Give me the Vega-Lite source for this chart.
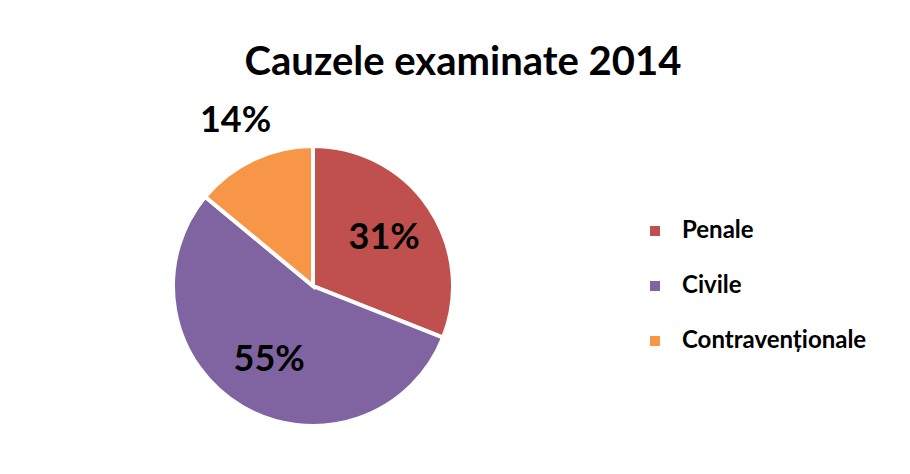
{
  "$schema": "https://vega.github.io/schema/vega-lite/v6.json",
  "width": 300,
  "height": 300,
  "autosize": {"type": "none"},
  "padding": {"left": 163, "top": 136, "right": 447, "bottom": 38},
  "background": "white",
  "title": {
    "text": "Cauzele examinate 2014",
    "font": "Lato",
    "fontSize": 40,
    "fontWeight": "bold",
    "color": "black",
    "anchor": "middle",
    "frame": "group",
    "dx": 150,
    "offset": 20
  },
  "data": {
    "values": [
      {"category": "Penale", "value": 31, "label": "31%"},
      {"category": "Civile", "value": 55, "label": "55%"},
      {"category": "Contravenționale", "value": 14, "label": "14%"}
    ]
  },
  "transform": [
    {"window": [{"op": "row_number", "as": "order"}]}
  ],
  "encoding": {
    "theta": {"field": "value", "type": "quantitative", "stack": true},
    "order": {"field": "order", "type": "quantitative"}
  },
  "layer": [
    {
      "mark": {"type": "arc", "outerRadius": 140, "stroke": "white", "strokeWidth": 4},
      "encoding": {
        "color": {
          "field": "category",
          "type": "nominal",
          "sort": ["Penale", "Civile", "Contravenționale"],
          "scale": {"domain": ["Penale", "Civile", "Contravenționale"], "range": ["#C0504D", "#8064A2", "#F79646"]},
          "legend": {
            "title": null,
            "orient": "none",
            "legendX": 480,
            "legendY": 83,
            "symbolType": "square",
            "symbolSize": 100,
            "symbolStrokeWidth": 0,
            "labelFont": "Lato",
            "labelFontSize": 24,
            "labelFontWeight": "bold",
            "labelColor": "black",
            "labelOffset": 15,
            "rowPadding": 31,
            "labelLimit": 400
          }
        }
      }
    },
    {
      "mark": {"type": "text", "radius": 86, "font": "Lato", "fontSize": 36, "fontWeight": "bold", "color": "black"},
      "encoding": {
        "text": {"condition": {"test": "datum.category !== 'Contravenționale'", "field": "label"}, "value": ""}
      }
    },
    {
      "mark": {"type": "text", "radius": 182, "font": "Lato", "fontSize": 36, "fontWeight": "bold", "color": "black"},
      "encoding": {
        "text": {"condition": {"test": "datum.category === 'Contravenționale'", "field": "label"}, "value": ""}
      }
    }
  ],
  "config": {"view": {"stroke": null}}
}
